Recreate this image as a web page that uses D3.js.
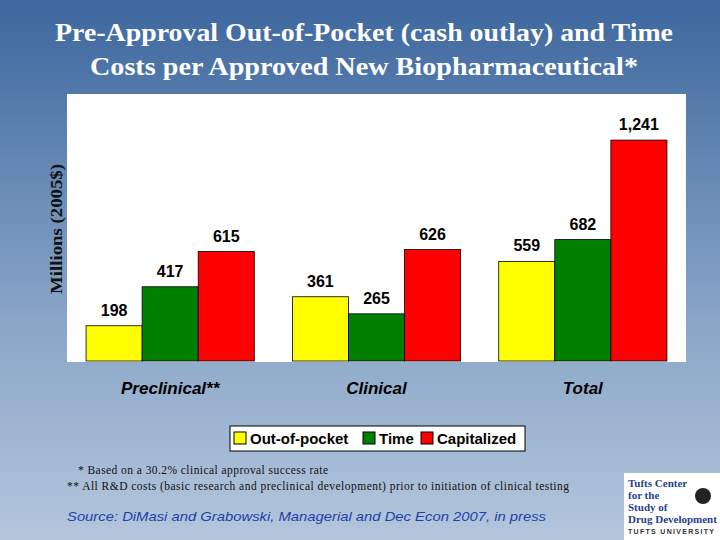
<!DOCTYPE html>
<html><head><meta charset="utf-8">
<script src="https://cdn.jsdelivr.net/npm/d3@7"></script>
<style>body{margin:0}</style></head>
<body><svg id="c" width="720" height="540"></svg>
<script>
const categories = ["Preclinical**", "Clinical", "Total"];
const seriesNames = ["Out-of-pocket", "Time", "Capitalized"];
const outOfPocket = [198, 361, 559];
const time = [417, 265, 682];
const capitalized = [615, 626, 1241];
const labels = [["198","417","615"],["361","265","626"],["559","682","1,241"]];
const colors = ["#ffff00", "#008000", "#ff0000"];

const svg = d3.select("#c");
const defs = svg.append("defs");
const g = defs.append("linearGradient").attr("id","bg").attr("x1",0).attr("y1",0).attr("x2",0).attr("y2",1);
g.append("stop").attr("offset","0%").attr("stop-color","#3d679e");
g.append("stop").attr("offset","60%").attr("stop-color","#8aa6c8");
g.append("stop").attr("offset","100%").attr("stop-color","#b4c6dc");
svg.append("rect").attr("width",720).attr("height",540).attr("fill","url(#bg)");

svg.append("text").attr("x",364).attr("y",41).attr("text-anchor","middle").attr("fill","#fff")
  .attr("font-family","Liberation Serif").attr("font-weight","bold").attr("font-size",25)
  .attr("textLength",618).attr("lengthAdjust","spacingAndGlyphs").text("Pre-Approval Out-of-Pocket (cash outlay) and Time");
svg.append("text").attr("x",364).attr("y",75).attr("text-anchor","middle").attr("fill","#fff")
  .attr("font-family","Liberation Serif").attr("font-weight","bold").attr("font-size",25)
  .attr("textLength",548).attr("lengthAdjust","spacingAndGlyphs").text("Costs per Approved New Biopharmaceutical*");

const pTop=94, pBottom=361, pLeft=67, pRight=686;
svg.append("rect").attr("x",pLeft).attr("y",pTop).attr("width",pRight-pLeft).attr("height",pBottom-pTop+1).attr("fill","#fff");

svg.append("text").attr("transform","translate(62,229) rotate(-90)").attr("text-anchor","middle")
  .attr("font-family","Liberation Serif").attr("font-weight","bold").attr("font-size",16).attr("fill","#111")
  .attr("textLength",130).attr("lengthAdjust","spacingAndGlyphs").text("Millions (2005$)");

const x0 = d3.scaleBand().domain(categories).range([pLeft,pRight]).paddingInner(0).paddingOuter(0);
const x1 = d3.scaleBand().domain(seriesNames).range([0,x0.bandwidth()]).paddingOuter(0.34);
const y = d3.scaleLinear().domain([0,1500]).range([pBottom,pTop]);
const data = categories.map((c,i)=>({c, vals:[outOfPocket[i],time[i],capitalized[i]], labs:labels[i]}));

const grp = svg.selectAll("g.grp").data(data).join("g").attr("transform",d=>`translate(${x0(d.c)},0)`);
grp.selectAll("rect").data(d=>d.vals.map((v,k)=>({v,k}))).join("rect")
  .attr("x",d=>x1(seriesNames[d.k])).attr("width",x1.bandwidth())
  .attr("y",d=>y(d.v)).attr("height",d=>pBottom-y(d.v))
  .attr("fill",d=>colors[d.k]).attr("stroke","#000").attr("stroke-width",0.8);
grp.selectAll("text").data(d=>d.vals.map((v,k)=>({v,k,l:d.labs[k]}))).join("text")
  .attr("x",d=>x1(seriesNames[d.k])+x1.bandwidth()/2).attr("y",d=>y(d.v)-10)
  .attr("text-anchor","middle").attr("font-family","Liberation Sans").attr("font-weight","bold")
  .attr("font-size",16).text(d=>d.l);

svg.selectAll("text.cat").data(categories).join("text").attr("class","cat")
  .attr("x",d=>x0(d)+x0.bandwidth()/2).attr("y",394).attr("text-anchor","middle")
  .attr("font-family","Liberation Sans").attr("font-weight","bold").attr("font-style","italic")
  .attr("font-size",17).text(d=>d);

svg.append("rect").attr("x",230).attr("y",426).attr("width",295).attr("height",25).attr("fill","#fff").attr("stroke","#000");
const lx=[234,363,421];
seriesNames.forEach((s,i)=>{
  svg.append("rect").attr("x",lx[i]).attr("y",432).attr("width",12).attr("height",12).attr("fill",colors[i]).attr("stroke","#000");
  svg.append("text").attr("x",lx[i]+16).attr("y",444).attr("font-family","Liberation Sans").attr("font-weight","bold").attr("font-size",15).text(s);
});

svg.append("text").attr("x",78).attr("y",474).attr("font-family","Liberation Serif").attr("font-size",11.5).attr("fill","#111")
  .attr("textLength",250).text("* Based on a 30.2% clinical approval success rate");
svg.append("text").attr("x",67).attr("y",490).attr("font-family","Liberation Serif").attr("font-size",11.5).attr("fill","#111")
  .attr("textLength",502).text("** All R&D costs (basic research and preclinical development) prior to initiation of clinical testing");
svg.append("text").attr("x",67).attr("y",521).attr("font-family","Liberation Sans").attr("font-style","italic").attr("font-size",13.5).attr("fill","#1f3fa8")
  .attr("textLength",479).attr("lengthAdjust","spacingAndGlyphs").text("Source: DiMasi and Grabowski, Managerial and Dec Econ 2007, in press");

svg.append("rect").attr("x",624).attr("y",473).attr("width",96).attr("height",67).attr("fill","#fff");
["Tufts Center","for the","Study of","Drug Development"].forEach((t,i)=>{
  svg.append("text").attr("x",628).attr("y",487+i*12).attr("font-family","Liberation Serif").attr("font-weight","bold")
   .attr("font-size",11).attr("fill","#1f3f8f").text(t);
});
svg.append("circle").attr("cx",703).attr("cy",496).attr("r",8).attr("fill","#222");
svg.append("text").attr("x",628).attr("y",534).attr("font-family","Liberation Sans").attr("font-weight","bold").attr("font-size",7).attr("fill","#333")
  .attr("textLength",86).text("TUFTS UNIVERSITY");
</script></body></html>
